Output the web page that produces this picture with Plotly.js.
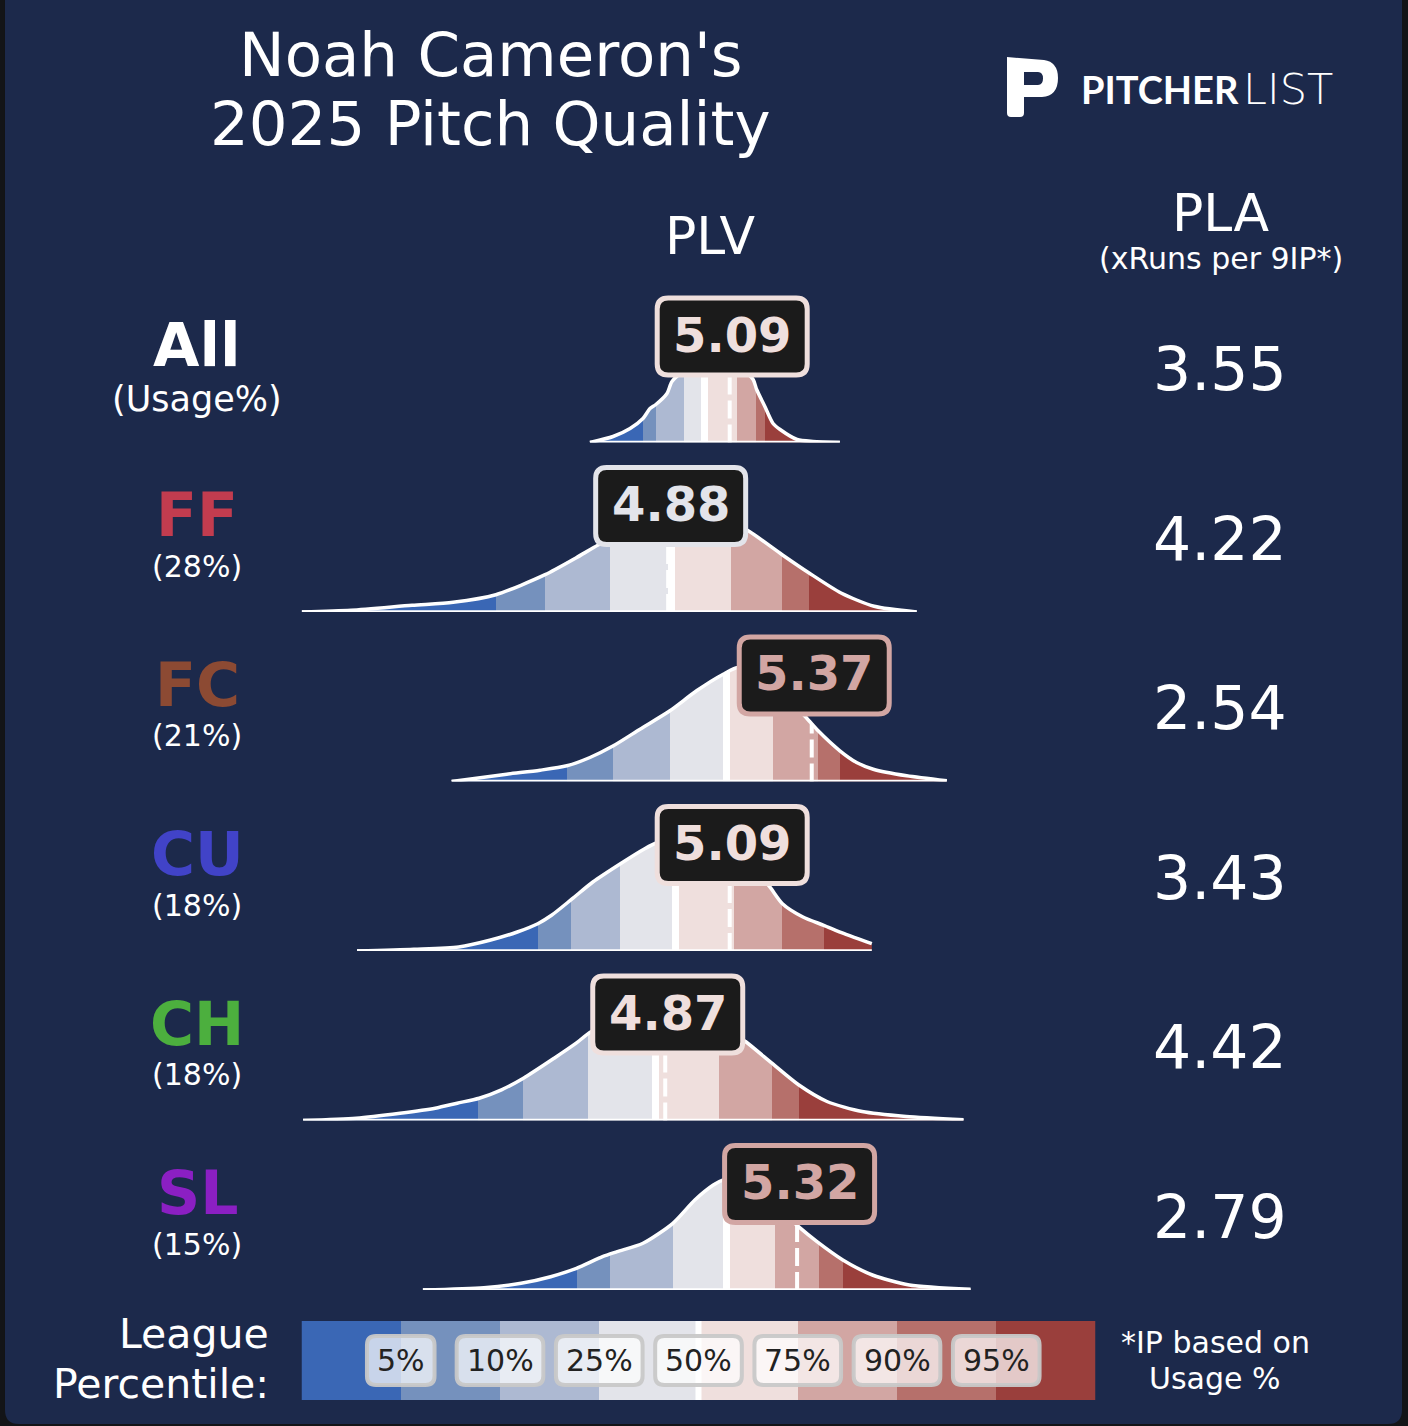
<!DOCTYPE html>
<html><head><meta charset="utf-8">
<script src="https://cdn.plot.ly/plotly-3.0.1.min.js"></script>
<style>html,body{margin:0;padding:0;background:#131417;}#chart{width:1408px;height:1426px;}</style>
</head><body><div id="chart"></div>
<script>
// ---------------- DATA ----------------
const titleLines = ["Noah Cameron's", "2025 Pitch Quality"];
const pitchLabels = ['All', 'FF', 'FC', 'CU', 'CH', 'SL'];
const usageLabels = ['(Usage%)', '(28%)', '(21%)', '(18%)', '(18%)', '(15%)'];
const pitchColors = ['#ffffff', '#c23c4f', '#8c4a33', '#4143c8', '#4caf3e', '#8b1fc3'];
const plvValues = [5.09, 4.88, 5.37, 5.09, 4.87, 5.32];
const plaValues = ['3.55', '4.22', '2.54', '3.43', '4.42', '2.79'];

// density curves (PLV on x, density on y)
const allX = [4.613,4.692,4.750,4.794,4.818,4.838,4.876,4.893,4.937,4.989,5.040,5.091,5.132,5.170,5.182,5.210,5.238,5.262,5.320,5.374,5.466];
const allY = [0,0.06,0.14,0.24,0.34,0.38,0.49,0.61,0.72,0.79,0.81,0.79,0.73,0.63,0.53,0.36,0.19,0.13,0.03,0.01,0];
const ffX = [3.630,3.798,4.006,4.146,4.292,4.460,4.565,4.641,4.733,4.818,4.903,4.989,5.074,5.156,5.269,5.361,5.470,5.583,5.728];
const ffY = [0,0.017,0.067,0.097,0.173,0.373,0.54,0.67,0.80,0.90,0.96,0.98,0.93,0.807,0.573,0.39,0.19,0.057,0];
const fcX = [4.141,4.329,4.443,4.534,4.613,4.693,4.784,4.886,4.977,5.068,5.120,5.193,5.279,5.353,5.392,5.466,5.523,5.580,5.694,5.831];
const fcY = [0,0.073,0.113,0.157,0.24,0.357,0.523,0.707,0.907,1.073,1.14,1.03,0.85,0.633,0.507,0.307,0.19,0.123,0.057,0.007];
const cuX = [3.818,4.012,4.165,4.271,4.365,4.435,4.482,4.553,4.623,4.717,4.800,4.847,4.920,4.989,5.057,5.125,5.176,5.229,5.270,5.340,5.411,5.481,5.575];
const cuY = [0,0.017,0.04,0.107,0.19,0.273,0.357,0.523,0.69,0.873,1.023,1.09,1.15,1.16,1.10,0.97,0.82,0.633,0.473,0.34,0.257,0.173,0.073];
const chX = [3.634,3.815,3.965,4.085,4.160,4.235,4.311,4.386,4.491,4.566,4.618,4.716,4.801,4.886,4.989,5.074,5.144,5.234,5.325,5.422,5.542,5.692,5.888];
const chY = [0,0.023,0.073,0.123,0.173,0.223,0.307,0.423,0.623,0.773,0.89,0.99,1.04,1.04,1.0,0.93,0.79,0.573,0.357,0.19,0.09,0.04,0.007];
const slX = [4.043,4.251,4.378,4.479,4.567,4.656,4.706,4.794,4.896,4.971,5.034,5.072,5.125,5.193,5.262,5.325,5.388,5.476,5.577,5.703,5.912];
const slY = [0,0.023,0.067,0.133,0.217,0.333,0.383,0.467,0.667,0.90,1.05,1.107,1.13,1.02,0.80,0.633,0.483,0.30,0.15,0.05,0.007];

// league percentile boundaries (5,10,25,50,75,90,95) per pitch type
const pctAll = [4.795,4.838,4.935,5.004,5.114,5.179,5.210];
const pctFF = [4.293,4.460,4.683,4.893,5.094,5.268,5.361];
const pctFC = [4.534,4.693,4.886,5.078,5.239,5.392,5.466];
const pctCU = [4.435,4.550,4.717,4.905,5.103,5.270,5.411];
const pctCH = [4.232,4.386,4.606,4.836,5.054,5.234,5.325];
const pctSL = [4.570,4.681,4.898,5.080,5.245,5.394,5.476];

const legendLabels = ['5%', '10%', '25%', '50%', '75%', '90%', '95%'];
const bandColors = ['#3a67b5','#7591bd','#adb9d2','#e3e4ea','#efdfdd','#d2a6a3','#b6706b','#9a3f3c'];

const headerPLV = 'PLV';
const headerPLA = 'PLA';
const headerPLAsub = '(xRuns per 9IP*)';
const legendTitle = ['League', 'Percentile:'];
const footNote = ['*IP based on', 'Usage %'];

// ---------------- LAYOUT HELPERS ----------------
const W = 1408, H = 1426;
const NAVY = '#1c294b';
const FONT = 'DejaVu Sans';
const xRange = [2.5996, 7.4050];
const pxPerPLV = W / (xRange[1] - xRange[0]);
const rowBase0 = 442.5, rowStep = 169.5, rowSpan = 150, unitPx = 100;
const boxShift = 2.5;

const rows = [
  {dx: allX, dy: allY, pct: pctAll},
  {dx: ffX, dy: ffY, pct: pctFF},
  {dx: fcX, dy: fcY, pct: pctFC},
  {dx: cuX, dy: cuY, pct: pctCU},
  {dx: chX, dy: chY, pct: pctCH},
  {dx: slX, dy: slY, pct: pctSL}
];

const px = x => x / W;
const py = y => 1 - y / H;
function pathPx(str) {
  return str.replace(/(-?\d+\.?\d*),(-?\d+\.?\d*)/g, (m, a, b) => px(+a).toFixed(5) + ',' + py(+b).toFixed(5));
}
function rr(x0, y0, x1, y1, r) {
  return `M${x0 + r},${y0} L${x1 - r},${y0} Q${x1},${y0} ${x1},${y0 + r} L${x1},${y1 - r} Q${x1},${y1} ${x1 - r},${y1} ` +
         `L${x0 + r},${y1} Q${x0},${y1} ${x0},${y1 - r} L${x0},${y0 + r} Q${x0},${y0} ${x0 + r},${y0} Z`;
}
function interp(xs, ys, v) {
  for (let k = 0; k < xs.length - 1; k++) {
    if (v >= xs[k] && v <= xs[k + 1]) {
      const t = (v - xs[k]) / (xs[k + 1] - xs[k]);
      return ys[k] + t * (ys[k + 1] - ys[k]);
    }
  }
  return 0;
}
function bandColor(v, pct) {
  return bandColors[pct.filter(p => v >= p).length];
}
function bandScale(pct, x0, x1) {
  const f = v => Math.min(1, Math.max(0, (v - x0) / (x1 - x0)));
  const half = 3.5 / pxPerPLV;
  const edges = [pct[0], pct[1], pct[2], pct[3] - half, pct[3] + half, pct[4], pct[5], pct[6]];
  const cols = [bandColors[0], bandColors[1], bandColors[2], bandColors[3], '#ffffff', bandColors[4], bandColors[5], bandColors[6], bandColors[7]];
  const cs = [[0, cols[0]]];
  edges.forEach((e, k) => { cs.push([f(e), cols[k]]); cs.push([f(e), cols[k + 1]]); });
  cs.push([1, cols[cols.length - 1]]);
  return cs;
}

const traces = [];
const shapes = [];
const annotations = [];
const layout = {
  width: W, height: H,
  margin: {l: 0, r: 0, t: 0, b: 0},
  paper_bgcolor: '#131417',
  plot_bgcolor: 'rgba(0,0,0,0)',
  showlegend: false,
  xaxis: {domain: [0, 1], range: xRange, visible: false, fixedrange: true, anchor: 'y'},
  xaxis2: {domain: [px(301.5), px(1095.5)], range: [0, 8], visible: false, fixedrange: true, anchor: 'y7'},
  yaxis7: {domain: [py(1400), py(1321)], range: [0, 1], visible: false, fixedrange: true, anchor: 'x2'}
};

// background card
shapes.push({type: 'path', xref: 'paper', yref: 'paper', layer: 'below',
  path: pathPx(rr(5, -40, 1402, 1424, 14)), fillcolor: NAVY, line: {width: 0}});

// title
titleLines.forEach((t, k) => annotations.push({xref: 'paper', yref: 'paper', x: px(491), y: py(55 + k * 68),
  text: t, showarrow: false, xanchor: 'center', yanchor: 'middle', font: {family: FONT, size: 61, color: '#ffffff'}}));

// logo
shapes.push({type: 'path', xref: 'paper', yref: 'paper', layer: 'above', fillcolor: '#ffffff', line: {width: 0},
  path: pathPx('M1007,57 L1044,60 Q1058,62 1058,78 Q1058,96 1042,97 L1024,97 L1024,113 Q1024,117 1020,117 L1011,117 Q1007,117 1007,113 Z ' +
               'M1024,72 L1024,85 L1038,85 Q1043,85 1043,78.5 Q1043,72 1038,72 Z')});
annotations.push({xref: 'paper', yref: 'paper', x: px(1241), y: py(89.5), text: 'PITCHER', showarrow: false,
  xanchor: 'right', yanchor: 'middle', font: {family: 'Lato', size: 38, color: '#ffffff', weight: 'bold'}});
annotations.push({xref: 'paper', yref: 'paper', x: px(1241), y: py(89.5), text: 'LIST', showarrow: false,
  xanchor: 'left', yanchor: 'middle', font: {family: FONT, size: 43, color: '#ffffff', weight: 200}});

// headers
annotations.push({xref: 'paper', yref: 'paper', x: px(710), y: py(236), text: headerPLV, showarrow: false,
  xanchor: 'center', yanchor: 'middle', font: {family: FONT, size: 52, color: '#ffffff'}});
annotations.push({xref: 'paper', yref: 'paper', x: px(1221), y: py(213), text: headerPLA, showarrow: false,
  xanchor: 'center', yanchor: 'middle', font: {family: FONT, size: 52, color: '#ffffff'}});
annotations.push({xref: 'paper', yref: 'paper', x: px(1221), y: py(258), text: headerPLAsub, showarrow: false,
  xanchor: 'center', yanchor: 'middle', font: {family: FONT, size: 30, color: '#ffffff'}});

// rows
rows.forEach((r, i) => {
  const b = rowBase0 + i * rowStep;
  const yName = i === 0 ? 'y' : 'y' + (i + 1);
  const yKey = i === 0 ? 'yaxis' : 'yaxis' + (i + 1);
  layout[yKey] = {domain: [py(b), py(b - rowSpan)], range: [0, rowSpan / unitPx], visible: false, fixedrange: true, anchor: 'x'};
  const x0 = r.dx[0], x1 = r.dx[r.dx.length - 1];
  traces.push({type: 'scatter', mode: 'lines', x: r.dx, y: r.dy, xaxis: 'x', yaxis: yName,
    line: {color: '#ffffff', width: 3.5, shape: 'spline', smoothing: 0.7},
    fill: 'tozeroy', fillgradient: {type: 'horizontal', start: x0, stop: x1, colorscale: bandScale(r.pct, x0, x1)},
    hoverinfo: 'skip'});
  traces.push({type: 'scatter', mode: 'lines', x: [x0, x1], y: [0, 0], xaxis: 'x', yaxis: yName,
    line: {color: '#ffffff', width: 3.5}, hoverinfo: 'skip'});

  const v = plvValues[i];
  const col = bandColor(v, r.pct);
  shapes.push({type: 'line', xref: 'x', yref: yName, x0: v, x1: v, y0: 0, y1: interp(r.dx, r.dy, v),
    line: {color: '#ffffff', width: 4, dash: '18px,6px'}, layer: 'above'});
  shapes.push({type: 'path', xref: 'x', yref: yName, xsizemode: 'pixel', ysizemode: 'pixel', xanchor: v, yanchor: 0,
    path: rr(-75 + boxShift, 67.5, 75 + boxShift, 144.5, 11), fillcolor: '#1b1b1b', line: {color: col, width: 5}, layer: 'above'});
  annotations.push({xref: 'x', yref: yName, x: v, xshift: boxShift, y: 1.08, text: v.toFixed(2), showarrow: false,
    xanchor: 'center', yanchor: 'middle', font: {family: FONT, size: 48, color: col, weight: 'bold'}});

  // left labels
  annotations.push({xref: 'paper', yref: 'paper', x: px(197), y: py(b - 97), text: pitchLabels[i], showarrow: false,
    xanchor: 'center', yanchor: 'middle', font: {family: FONT, size: 60, color: pitchColors[i], weight: 'bold'}});
  annotations.push({xref: 'paper', yref: 'paper', x: px(197), y: py(b - (i === 0 ? 44 : 46)), text: usageLabels[i], showarrow: false,
    xanchor: 'center', yanchor: 'middle', font: {family: FONT, size: i === 0 ? 35 : 30, color: '#ffffff'}});
  // PLA
  annotations.push({xref: 'paper', yref: 'paper', x: px(1220), y: py(b - 73.5), text: plaValues[i], showarrow: false,
    xanchor: 'center', yanchor: 'middle', font: {family: FONT, size: 60, color: '#ffffff'}});
});

// legend colour bar
traces.push({type: 'heatmap', xaxis: 'x2', yaxis: 'y7', x: bandColors.map((c, k) => k + 0.5), y: [0.5],
  z: [bandColors.map((c, k) => k)], zmin: 0, zmax: bandColors.length - 1,
  colorscale: bandColors.map((c, k) => [k / (bandColors.length - 1), c]), showscale: false, hoverinfo: 'skip'});
shapes.push({type: 'line', xref: 'x2', yref: 'y7', x0: 4, x1: 4, y0: 0, y1: 1, line: {color: '#ffffff', width: 6}, layer: 'above'});
legendLabels.forEach((t, k) => {
  const digits = t.length - 1;
  const w = (digits * 0.636 + 0.95) * 30 + 20;
  shapes.push({type: 'path', xref: 'x2', yref: 'y7', xsizemode: 'pixel', ysizemode: 'pixel', xanchor: k + 1, yanchor: 0.5,
    path: rr(-w / 2, -24.5, w / 2, 24.5, 9), fillcolor: 'rgba(255,255,255,0.72)', line: {color: 'rgba(200,200,200,0.95)', width: 4}, layer: 'above'});
  annotations.push({xref: 'x2', yref: 'y7', x: k + 1, y: 0.5, text: t, showarrow: false, xanchor: 'center', yanchor: 'middle',
    font: {family: FONT, size: 30, color: '#222222'}});
});
legendTitle.forEach((t, k) => annotations.push({xref: 'paper', yref: 'paper', x: px(271), y: py(1334 + k * 49.5), text: t,
  showarrow: false, xanchor: 'right', yanchor: 'middle', font: {family: FONT, size: 41, color: '#ffffff'}}));
footNote.forEach((t, k) => annotations.push({xref: 'paper', yref: 'paper', x: px(1215), y: py(1342 + k * 36), text: t,
  showarrow: false, xanchor: 'center', yanchor: 'middle', font: {family: FONT, size: 30, color: '#ffffff'}}));

layout.shapes = shapes;
layout.annotations = annotations;
Plotly.newPlot('chart', traces, layout, {staticPlot: true, displayModeBar: false});
</script></body></html>
